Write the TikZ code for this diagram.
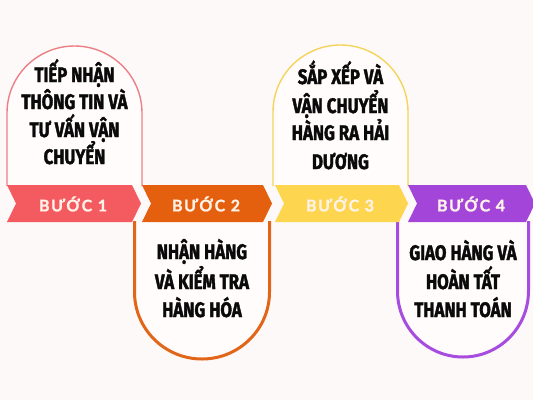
\documentclass[tikz,border=0pt]{standalone}
\usepackage{fontspec}
\setmainfont{Fira Sans}
\newfontfamily\cardfont{Fira Sans}[FakeStretch=0.8, BoldFeatures={FakeBold=1.7}]
\newfontfamily\bannerfont{Lato}[LetterSpace=10, BoldFeatures={FakeBold=1.2}]
\definecolor{bg}{HTML}{FDF9F8}
\definecolor{cardfill}{HTML}{FFFCFB}
\definecolor{cA}{HTML}{F45B60}
\definecolor{cAline}{HTML}{EC7F86}
\definecolor{cB}{HTML}{E4600E}
\definecolor{cBline}{HTML}{E2661A}
\definecolor{cC}{HTML}{FDD54F}
\definecolor{cCline}{HTML}{F6D35A}
\definecolor{cD}{HTML}{A445D9}
\definecolor{cDline}{HTML}{A64CDF}
\definecolor{labtext}{HTML}{FFF2E8}
\definecolor{ink}{HTML}{0A0A0A}
\tikzset{
  cardtext/.style={anchor=base, inner sep=0pt, text=ink, font=\cardfont\bfseries\fontsize{21}{24}\selectfont},
  bannertext/.style={inner sep=0pt, text=labtext, font=\bannerfont\bfseries\fontsize{16}{18}\selectfont},
  thinline/.style={line width=1.4pt},
  thickline/.style={line width=3pt},
}
\begin{document}
\begin{tikzpicture}[x=1pt,y=-1pt]
\useasboundingbox (0,0) rectangle (533,400);
\fill[bg] (0,0) rectangle (533,400);

% card 1 (top)
\fill[cardfill] (7,186) -- (7,113) arc[start angle=180,end angle=360,x radius=67.5,y radius=67] -- (142,186) -- cycle;
\draw[cAline,thinline] (7,186) -- (7,113) arc[start angle=180,end angle=360,x radius=67.5,y radius=67] -- (142,186);
% card 3 (top)
\fill[cardfill] (273,186) -- (273,112) arc[start angle=180,end angle=360,x radius=67.5,y radius=67] -- (408,186) -- cycle;
\draw[cCline,thinline] (273,186) -- (273,112) arc[start angle=180,end angle=360,x radius=67.5,y radius=67] -- (408,186);
% card 2 (bottom)
\fill[cardfill] (134.5,221) -- (134.5,292) arc[start angle=180,end angle=0,x radius=67.5,y radius=67] -- (269.5,221) -- cycle;
\draw[cBline,thickline] (134.5,221) -- (134.5,292) arc[start angle=180,end angle=0,x radius=67.5,y radius=67] -- (269.5,221);
% card 4 (bottom)
\fill[cardfill] (397.5,221) -- (397.5,291) arc[start angle=180,end angle=0,x radius=65.5,y radius=66] -- (528.5,221) -- cycle;
\draw[cDline,thickline] (397.5,221) -- (397.5,291) arc[start angle=180,end angle=0,x radius=65.5,y radius=66] -- (528.5,221);

% banners
\fill[cA] (7,185) -- (132,185) -- (141,203.5) -- (132,222) -- (7,222) -- (16,203.5) -- cycle;
\fill[cB] (142,185) -- (263,185) -- (272,203.5) -- (263,222) -- (142,222) -- (151,203.5) -- cycle;
\fill[cC] (275,185) -- (399,185) -- (408,203.5) -- (399,222) -- (275,222) -- (284,203.5) -- cycle;
\fill[cD] (408,185) -- (526,185) -- (535,203.5) -- (526,222) -- (408,222) -- (417,203.5) -- cycle;

\node[bannertext] (b1) at (73,204) {BƯỚC 1};
\node[bannertext] (b2) at (206,204) {BƯỚC 2};
\node[bannertext] (b3) at (340,204) {BƯỚC 3};
\node[bannertext] (b4) at (471,204) {BƯỚC 4};

% card texts
\node[cardtext] (t1a) at (74.5,82) {TIẾP NHẬN};
\node[cardtext] (t1b) at (74.5,109) {THÔNG TIN VÀ};
\node[cardtext] (t1c) at (74.5,137) {TƯ VẤN VẬN};
\node[cardtext] (t1d) at (74.5,164) {CHUYỂN};

\node[cardtext] (t2a) at (202,259) {NHẬN HÀNG};
\node[cardtext] (t2b) at (202,289) {VÀ KIỂM TRA};
\node[cardtext] (t2c) at (202,317) {HÀNG HÓA};

\node[cardtext] (t3a) at (340.5,84) {SẮP XẾP VÀ};
\node[cardtext] (t3b) at (340.5,113) {VẬN CHUYỂN};
\node[cardtext] (t3c) at (340.5,140) {HÀNG RA HẢI};
\node[cardtext] (t3d) at (340.5,169) {DƯƠNG};

\node[cardtext] (t4a) at (463,260) {GIAO HÀNG VÀ};
\node[cardtext] (t4b) at (463,289) {HOÀN TẤT};
\node[cardtext] (t4c) at (463,317) {THANH TOÁN};
\end{tikzpicture}
\end{document}
